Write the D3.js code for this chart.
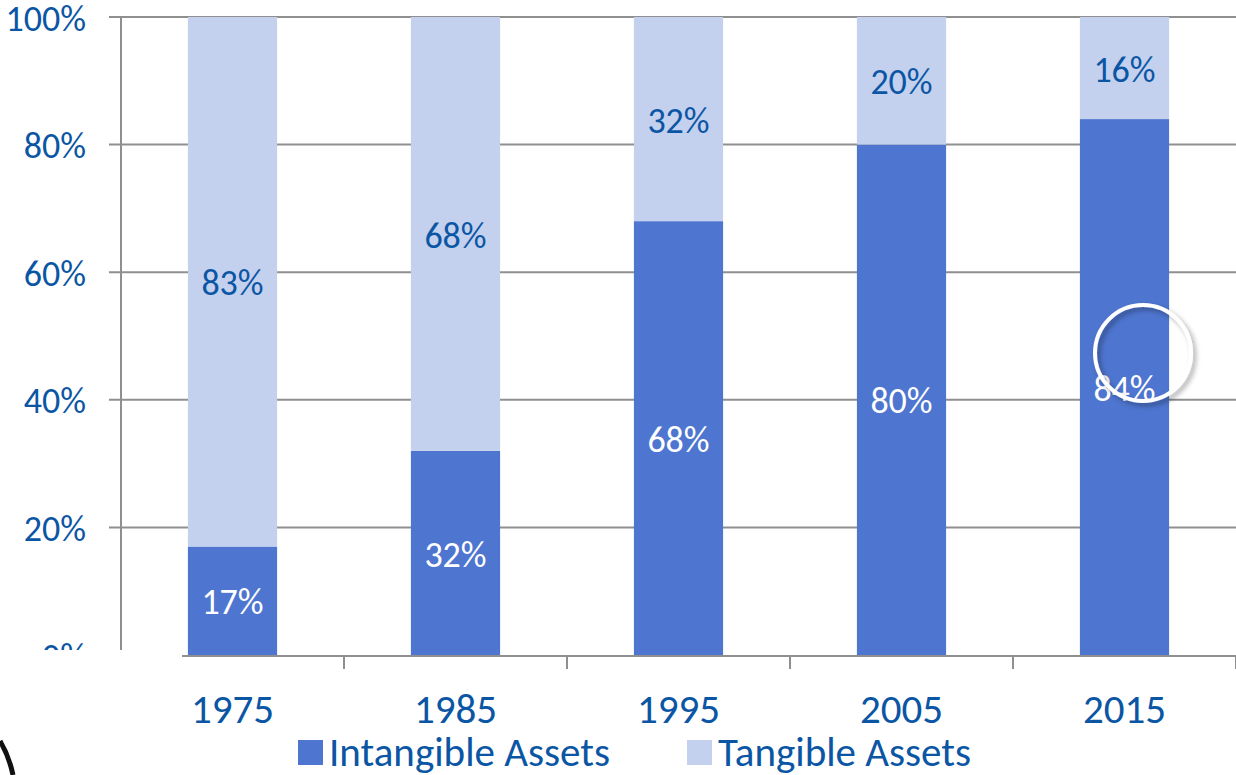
<!DOCTYPE html>
<html><head><meta charset="utf-8">
<script src="https://cdn.jsdelivr.net/npm/d3@7"></script>
<style>
html,body{margin:0;padding:0;background:#fff;}
svg{display:block;}
text{font-family:Carlito, Calibri, Lato, "Open Sans", sans-serif;}
</style></head>
<body>
<svg id="c" width="1236" height="775"></svg>
<script>
const years = ["1975","1985","1995","2005","2015"];
const intangible = [17, 32, 68, 80, 84];
const tangible = [83, 68, 32, 20, 16];
const yTicks = [0, 20, 40, 60, 80, 100];
const seriesNames = ["Intangible Assets", "Tangible Assets"];
const colors = ["#4e75cf", "#c3d0ee"];
const textBlue = "#0b56a4";

const svg = d3.select("#c");
const x = d3.scaleBand().domain(years).range([121, 1236]).paddingInner(0.6).paddingOuter(0.3);
const y = d3.scaleLinear().domain([0, 100]).range([655, 17]);

const defs = svg.append("defs");
defs.append("clipPath").attr("id","clipTop").append("rect").attr("x",0).attr("y",0).attr("width",1236).attr("height",650);
const f = defs.append("filter").attr("id","sh").attr("x","-50%").attr("y","-50%").attr("width","200%").attr("height","200%");
f.append("feDropShadow").attr("dx",3).attr("dy",3).attr("stdDeviation",2.5).attr("flood-color","#000").attr("flood-opacity",0.35);

// gridlines
svg.append("g").selectAll("line").data(yTicks.filter(d=>d>0)).join("line")
  .attr("x1",109).attr("x2",1236).attr("y1",d=>y(d)).attr("y2",d=>y(d))
  .attr("stroke","#8f8f8f").attr("stroke-width",2);

// y axis line
svg.append("line").attr("x1",121).attr("x2",121).attr("y1",y(100)).attr("y2",650)
  .attr("stroke","#8f8f8f").attr("stroke-width",2);

// y labels
svg.append("g").attr("clip-path","url(#clipTop)").selectAll("text").data(yTicks).join("text")
  .attr("x",86).attr("y",d=>y(d)+1).attr("dy","0.35em").attr("text-anchor","end")
  .attr("font-size",36).attr("fill",textBlue).text(d=>d+"%");

// stacks
const rows = years.map((yr,i)=>({year:yr, intangible:intangible[i], tangible:tangible[i]}));
const stack = d3.stack().keys(["intangible","tangible"])(rows);
const g = svg.append("g");
stack.forEach((s,si)=>{
  g.selectAll(null).data(s).join("rect")
    .attr("x",d=>x(d.data.year)).attr("width",x.bandwidth())
    .attr("y",d=>y(d[1])).attr("height",d=>y(d[0])-y(d[1]))
    .attr("fill",colors[si]);
});
stack.forEach((s,si)=>{
  g.selectAll(null).data(s).join("text")
    .attr("x",d=>x(d.data.year)+x.bandwidth()/2)
    .attr("y",d=>y((d[0]+d[1])/2)+1).attr("dy","0.35em").attr("text-anchor","middle")
    .attr("font-size",36).attr("fill",si===0?"#ffffff":textBlue)
    .text(d=>(d[1]-d[0])+"%");
});

// x axis
svg.append("line").attr("x1",182).attr("x2",1236).attr("y1",656).attr("y2",656)
  .attr("stroke","#8f8f8f").attr("stroke-width",2);
svg.append("g").selectAll("line").data(years).join("line")
  .attr("x1",d=>x(d)+x.bandwidth()/2+x.step()/2).attr("x2",d=>x(d)+x.bandwidth()/2+x.step()/2)
  .attr("y1",656).attr("y2",669).attr("stroke","#8f8f8f").attr("stroke-width",2);
svg.append("g").selectAll("text").data(years).join("text")
  .attr("x",d=>x(d)+x.bandwidth()/2).attr("y",723).attr("text-anchor","middle")
  .attr("font-size",41).attr("fill",textBlue).text(d=>d);

// legend
const leg = svg.append("g");
const legX = [298, 687];
seriesNames.forEach((n,i)=>{
  leg.append("rect").attr("x",legX[i]).attr("y",740).attr("width",25).attr("height",25).attr("fill",colors[i]);
  leg.append("text").attr("x",legX[i]+31).attr("y",766).attr("font-size",41).attr("fill",textBlue).text(n);
});

// overlay highlight circle
svg.append("circle").attr("cx",1143).attr("cy",353).attr("r",48)
  .attr("fill","none").attr("stroke","#ffffff").attr("stroke-width",4).attr("filter","url(#sh)");
// corner fragment
svg.append("path").attr("d","M0,741 Q9,756 13,775").attr("fill","none").attr("stroke","#111").attr("stroke-width",5);
</script>
</body></html>
